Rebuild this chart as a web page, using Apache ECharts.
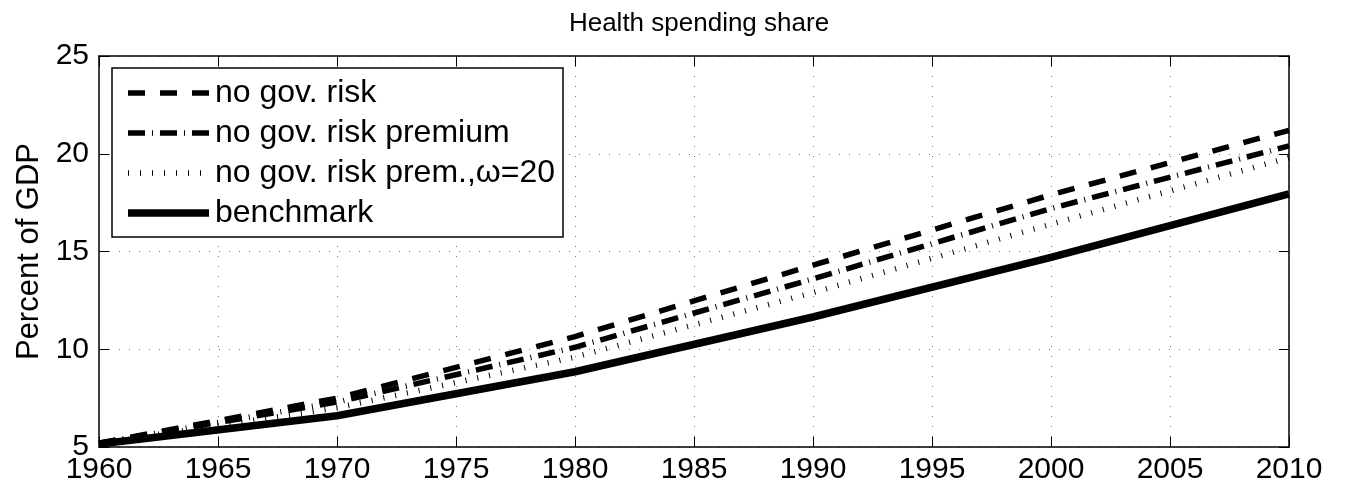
<!DOCTYPE html>
<html>
<head>
<meta charset="utf-8">
<script src="https://cdn.jsdelivr.net/npm/echarts@6/dist/echarts.min.js"></script>
<style>
html,body{margin:0;padding:0;background:#fff;}
#chart{width:1346px;height:495px;}
</style>
</head>
<body>
<div id="chart"></div>
<script>
const years = [1960, 1970, 1980, 1990, 2000, 2010];
const noGovRisk = [5.2, 7.5, 10.65, 14.3, 17.9, 21.2];
const noGovRiskPremium = [5.2, 7.3, 10.1, 13.6, 17.2, 20.4];
const noGovRiskPremOmega = [5.2, 7.0, 9.6, 12.9, 16.4, 19.8];
const benchmark = [5.15, 6.6, 8.85, 11.65, 14.7, 17.95];
const seriesNames = ['no gov. risk', 'no gov. risk premium', 'no gov. risk prem.,ω=20', 'benchmark'];
const xTicks = [1960, 1965, 1970, 1975, 1980, 1985, 1990, 1995, 2000, 2005, 2010];
const yTicks = [5, 10, 15, 20, 25];

const FONT = 'Liberation Sans, Arial, sans-serif';
function pairs(vals){ return years.map((y,i)=>[y, vals[i]]); }

const styles = [
  {width:5.5, dash:[17,15]},
  {width:5.5, dash:[17,7,1,7]},
  {width:5.5, dash:[1,11]},
  {width:7.5, dash:null}
];

// legend (drawn as graphics; box, samples and real text)
const legBox = {x:112, y:68, w:451, h:169};
const rowY = [93, 133, 173, 213];
const legendGraphics = [
  {type:'rect', shape:{x:legBox.x, y:legBox.y, width:legBox.w, height:legBox.h},
   style:{fill:'#fff', stroke:'#000', lineWidth:1.5}, z:100}
];
seriesNames.forEach((n,i)=>{
  legendGraphics.push({type:'line', shape:{x1:128, y1:rowY[i], x2:209, y2:rowY[i]},
    style:{stroke:'#000', lineWidth:styles[i].width, lineDash:styles[i].dash, lineCap:'butt'}, z:101});
  legendGraphics.push({type:'text', x:215, y:rowY[i],
    style:{text:n, fontFamily:FONT, fontSize:32, fill:'#000', textVerticalAlign:'middle', verticalAlign:'middle'}, z:101});
});

const chart = echarts.init(document.getElementById('chart'));
const axisCommon = {
  axisLine:{show:true, onZero:false, lineStyle:{color:'#000', width:1.5}},
  axisTick:{show:true, inside:true, length:10, lineStyle:{color:'#000', width:1}},
};
chart.setOption({
  animation:false,
  backgroundColor:'#fff',
  title:{text:'Health spending share', left:694, top:6, textAlign:'center',
    textStyle:{fontFamily:FONT, fontSize:26, fontWeight:'normal', color:'#000'}},
  grid:{left:99, right:57, top:56, bottom:48, show:false},
  xAxis:[
    Object.assign({type:'value', min:1960, max:2010, interval:5, position:'bottom',
      axisLabel:{fontFamily:FONT, fontSize:30, color:'#000', margin:8,
        formatter:v=>xTicks.includes(v)?String(v):''},
      splitLine:{show:true, lineStyle:{color:'#777', width:1, type:[1,9]}}}, axisCommon),
    Object.assign({type:'value', min:1960, max:2010, interval:5, position:'top',
      axisLabel:{show:false}, splitLine:{show:false}}, axisCommon)
  ],
  yAxis:[
    Object.assign({type:'value', min:5, max:25, interval:5, position:'left',
      name:'Percent of GDP', nameLocation:'middle', nameGap:53, nameRotate:90,
      nameTextStyle:{fontFamily:FONT, fontSize:31, color:'#000'},
      axisLabel:{fontFamily:FONT, fontSize:30, color:'#000', margin:10,
        formatter:v=>yTicks.includes(v)?String(v):''},
      splitLine:{show:true, lineStyle:{color:'#777', width:1, type:[1,9]}}}, axisCommon),
    Object.assign({type:'value', min:5, max:25, interval:5, position:'right',
      axisLabel:{show:false}, splitLine:{show:false}}, axisCommon)
  ],
  graphic:legendGraphics,
  series:seriesNames.map((n,i)=>({
    name:n, type:'line', data:pairs([noGovRisk, noGovRiskPremium, noGovRiskPremOmega, benchmark][i]),
    symbol:'none', z:i===3?4:3,
    lineStyle:{color:'#000', width:styles[i].width, type:styles[i].dash||'solid', cap:'butt'}
  }))
});
</script>
</body>
</html>
